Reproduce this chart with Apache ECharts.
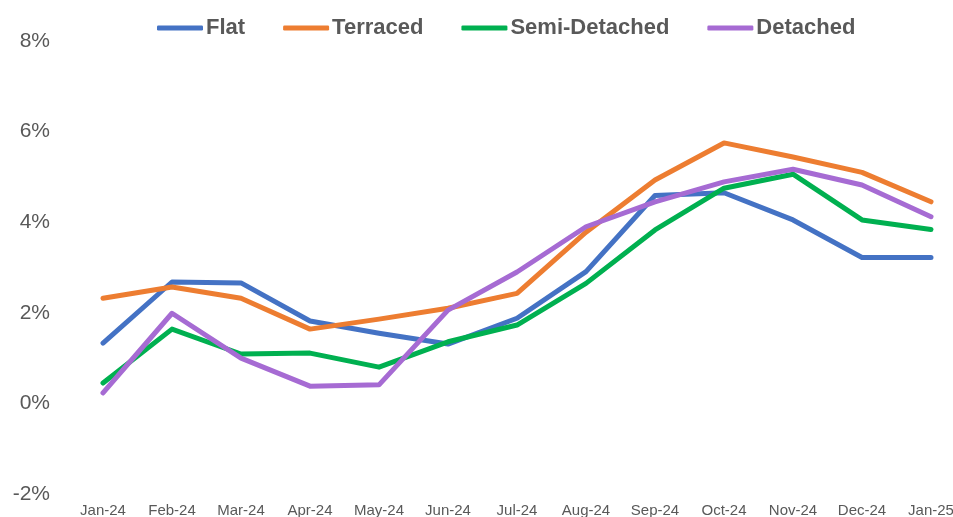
<!DOCTYPE html>
<html>
<head>
<meta charset="utf-8">
<script src="https://cdn.jsdelivr.net/npm/echarts@6/dist/echarts.min.js"></script>
<style>
  html, body { margin: 0; padding: 0; background: #fff; }
  #chart { width: 953px; height: 517px; }
</style>
</head>
<body>
<div id="chart"></div>
<script>
const months = ['Jan-24', 'Feb-24', 'Mar-24', 'Apr-24', 'May-24', 'Jun-24', 'Jul-24',
  'Aug-24', 'Sep-24', 'Oct-24', 'Nov-24', 'Dec-24', 'Jan-25']

// annual change, %
const flat = [1.33, 2.68, 2.66, 1.82, 1.55, 1.31, 1.88, 2.91, 4.59, 4.65, 4.05, 3.22, 3.22]
const terraced = [2.32, 2.57, 2.32, 1.64, 1.86, 2.10, 2.43, 3.78, 4.93, 5.75, 5.44, 5.10, 4.45]
const semiDetached = [0.45, 1.64, 1.09, 1.11, 0.80, 1.36, 1.73, 2.65, 3.83, 4.75, 5.06, 4.05, 3.84]
const detached = [0.23, 1.99, 1.00, 0.38, 0.41, 2.06, 2.90, 3.90, 4.45, 4.89, 5.17, 4.82, 4.12]

const names = ['Flat', 'Terraced', 'Semi-Detached', 'Detached']
const colors = ['#4472C4', '#ED7D31', '#00B050', '#A66BD3']
const values = [flat, terraced, semiDetached, detached]

const chart = echarts.init(document.getElementById('chart'))

chart.setOption({
  animation: false,
  color: colors,
  textStyle: { fontFamily: 'Liberation Sans, Arial, sans-serif' },
  legend: {
    top: 12,
    left: 152,
    icon: 'roundRect',
    itemWidth: 46,
    itemHeight: 5,
    itemGap: 38,
    textStyle: {
      color: '#595959',
      fontSize: 22,
      fontWeight: 'bold',
      padding: [0, 0, 0, -2]
    },
    data: names
  },
  grid: {
    left: 103,
    right: 22,
    top: 41,
    bottom: 23,
    outerBoundsMode: 'none'
  },
  xAxis: {
    type: 'category',
    data: months,
    boundaryGap: false,
    axisLine: { show: false },
    axisTick: { show: false },
    axisLabel: {
      color: '#595959',
      fontSize: 15,
      margin: 9,
      interval: 0
    }
  },
  yAxis: {
    type: 'value',
    min: -2,
    max: 8,
    interval: 2,
    splitLine: { show: false },
    axisLine: { show: false },
    axisTick: { show: false },
    axisLabel: {
      color: '#595959',
      fontSize: 21,
      margin: 53,
      align: 'right',
      formatter: v => v + '%'
    }
  },
  series: names.map((name, i) => ({
    name: name,
    type: 'line',
    data: values[i],
    showSymbol: false,
    symbol: 'none',
    lineStyle: { width: 5, color: colors[i], cap: 'round', join: 'round' },
    itemStyle: { color: colors[i] }
  }))
})
</script>
</body>
</html>
